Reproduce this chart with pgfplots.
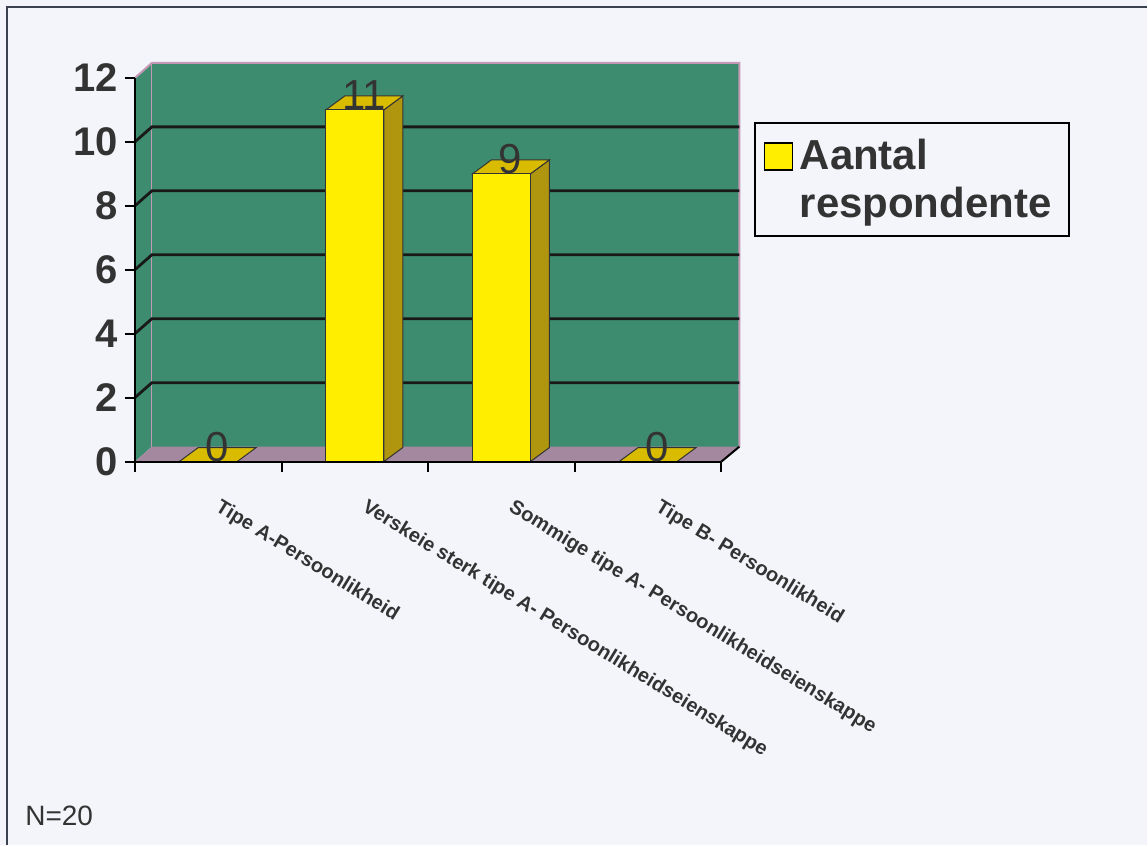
\documentclass[border=0pt]{standalone}
\usepackage{pgfplots}
\pgfplotsset{compat=1.18}
\usepackage{pgfplotstable}
\usepackage{fontspec}
\setmainfont{Liberation Sans}
\definecolor{bgc}{HTML}{F3F5FB}
\definecolor{bordc}{HTML}{3A4150}
\definecolor{wallc}{HTML}{3D8C70}
\definecolor{floorc}{HTML}{A3889F}
\definecolor{edgec}{HTML}{C497B4}
\definecolor{barfront}{HTML}{FFEE00}
\definecolor{barside}{HTML}{B0950E}
\definecolor{bartop}{HTML}{D9BC00}
\definecolor{tickc}{HTML}{333333}

\pgfplotstableread{
x y
0.5 0
1.5 11
2.5 9
3.5 0
}\datatable

\begin{document}
\begin{tikzpicture}
\fill[bgc] (-67.5pt,-192pt) rectangle (506.5pt,231pt);
\draw[bordc, line width=1pt] (-64pt,-192pt) -- (-64pt,227.5pt) -- (506.5pt,227.5pt);
\begin{axis}[
  at={(0pt,0pt)}, anchor=south west,
  width=293.5pt, height=192pt, scale only axis,
  xmin=0, xmax=4, ymin=0, ymax=12, clip=false, axis on top,
  axis x line*=bottom, axis y line*=left,
  axis line style={-, black, line width=1pt},
  ytick={0,2,...,12}, tick align=outside, major tick length=5pt,
  xtick={0,1,2,3,4}, xticklabels={,,,,},
  extra x ticks={0.5,1.5,2.5,3.5},
  extra x tick labels={Tipe A-Persoonlikheid, Verskeie sterk tipe A- Persoonlikheidseienskappe, Sommige tipe A- Persoonlikheidseienskappe, Tipe B- Persoonlikheid},
  extra x tick style={major tick length=0pt},
  tick style={black, line width=1pt},
  /pgf/number format/assume math mode=true,
  yticklabel style={font=\bfseries\fontsize{20}{24}\selectfont, text=tickc},
  xticklabel style={xshift=7pt, yshift=-18pt, rotate=-31.5, anchor=north west, inner sep=0pt,
    font=\bfseries\fontsize{10}{12}\selectfont, text=tickc},
]
% side wall and back wall
\fill[wallc] (axis cs:0,0) -- (axis cs:0.116,0.469) -- (axis cs:0.116,12.469) -- (axis cs:0,12) -- cycle;
\fill[wallc] (axis cs:0.116,0.469) rectangle (axis cs:4.123,12.469);
% floor
\fill[floorc] (axis cs:0,0) -- (axis cs:0.116,0.469) -- (axis cs:4.123,0.469) -- (axis cs:4,0) -- cycle;
\draw[edgec, line width=0.5pt] (axis cs:0.116,0.469) -- (axis cs:0.116,12.469);
\draw[edgec, line width=1pt] (axis cs:0,12) -- (axis cs:0.116,12.469) -- (axis cs:4.123,12.469) -- (axis cs:4.123,0.469);
\draw[black, line width=1pt] (axis cs:4,0) -- (axis cs:4.123,0.469);
% gridlines
\draw[black!90, line width=1.4pt] (axis cs:0,2) -- (axis cs:0.116,2.469) -- (axis cs:4.123,2.469);
\draw[black!90, line width=1.4pt] (axis cs:0,4) -- (axis cs:0.116,4.469) -- (axis cs:4.123,4.469);
\draw[black!90, line width=1.4pt] (axis cs:0,6) -- (axis cs:0.116,6.469) -- (axis cs:4.123,6.469);
\draw[black!90, line width=1.4pt] (axis cs:0,8) -- (axis cs:0.116,8.469) -- (axis cs:4.123,8.469);
\draw[black!90, line width=1.4pt] (axis cs:0,10) -- (axis cs:0.116,10.469) -- (axis cs:4.123,10.469);
% 3D bar faces
\addplot[fill=bartop, draw=black!80, line width=0.5pt] coordinates {(0.3025,0) (0.6975,0) (0.8275,0.44) (0.4325,0.44)} -- cycle;
\addplot[fill=bartop, draw=black!80, line width=0.5pt] coordinates {(3.3025,0) (3.6975,0) (3.8275,0.44) (3.4325,0.44)} -- cycle;
\addplot[fill=barside, draw=black!80, line width=0.5pt] coordinates {(1.6975,0) (1.8275,0.44) (1.8275,11.44) (1.6975,11)} -- cycle;
\addplot[fill=bartop, draw=black!80, line width=0.5pt] coordinates {(1.3025,11) (1.6975,11) (1.8275,11.44) (1.4325,11.44)} -- cycle;
\addplot[fill=barside, draw=black!80, line width=0.5pt] coordinates {(2.6975,0) (2.8275,0.44) (2.8275,9.44) (2.6975,9)} -- cycle;
\addplot[fill=bartop, draw=black!80, line width=0.5pt] coordinates {(2.3025,9) (2.6975,9) (2.8275,9.44) (2.4325,9.44)} -- cycle;
% front faces
\addplot[ybar, bar width=29pt, bar shift=0pt, fill=barfront, draw=black!80, line width=0.5pt,
  nodes near coords,
  every node near coord/.append style={font=\fontsize{21}{24}\selectfont, text=tickc, anchor=base, inner sep=0pt, xshift=4.5pt},
] table[x=x, y=y] {\datatable};
\end{axis}
% legend
\draw[black, line width=1pt, fill=bgc] (310.5pt,113pt) rectangle (467.5pt,169.5pt);
\draw[fill=barfront, draw=black, line width=0.7pt] (315pt,146pt) rectangle (329pt,159.5pt);
\node[anchor=base west, inner sep=0pt, font=\bfseries\fontsize{21}{24}\selectfont, text=tickc] at (332.5pt,146pt) {Aantal};
\node[anchor=base west, inner sep=0pt, font=\bfseries\fontsize{21}{24}\selectfont, text=tickc] at (332.5pt,122pt) {respondente};
% note
\node[anchor=base west, inner sep=0pt, font=\fontsize{14}{16}\selectfont, text=tickc] at (-55pt,-182pt) {N=20};
\end{tikzpicture}
\end{document}
